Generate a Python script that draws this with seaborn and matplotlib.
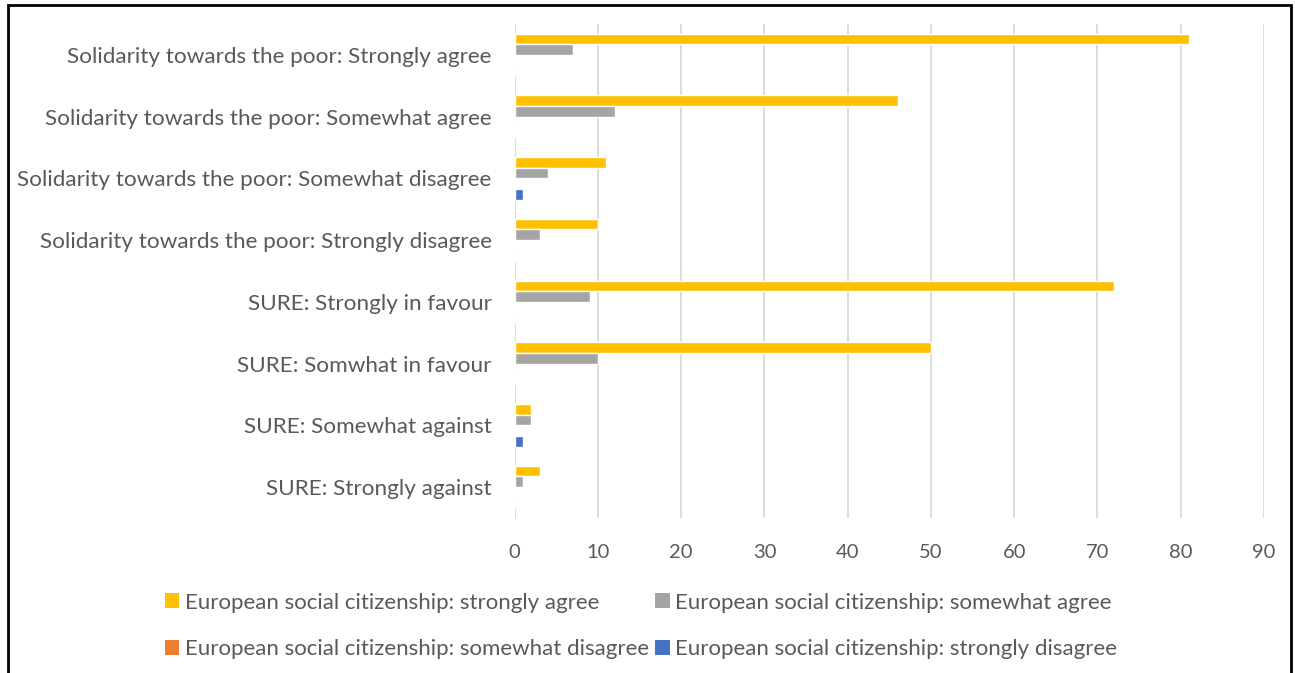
import matplotlib
matplotlib.use("Agg")
import matplotlib.pyplot as plt
from matplotlib.patches import Patch, Rectangle
import seaborn as sns
import pandas as pd

categories = [
    "Solidarity towards the poor: Strongly agree",
    "Solidarity towards the poor: Somewhat agree",
    "Solidarity towards the poor: Somewhat disagree",
    "Solidarity towards the poor: Strongly disagree",
    "SURE: Strongly in favour",
    "SURE: Somwhat in favour",
    "SURE: Somewhat against",
    "SURE: Strongly against",
]
series = [
    "European social citizenship: strongly agree",
    "European social citizenship: somewhat agree",
    "European social citizenship: somewhat disagree",
    "European social citizenship: strongly disagree",
]
strongly_agree = [81, 46, 11, 10, 72, 50, 2, 3]
somewhat_agree = [7, 12, 4, 3, 9, 10, 2, 1]
somewhat_disagree = [0, 0, 0, 0, 0, 0, 0, 0]
strongly_disagree = [0, 0, 1, 0, 0, 0, 1, 0]
x_ticks = [0, 10, 20, 30, 40, 50, 60, 70, 80, 90]

colors = ["#FFC000", "#A5A5A5", "#ED7D31", "#4472C4"]
text_color = "#595959"

rows = []
for name, vals in zip(series, [strongly_agree, somewhat_agree,
                               somewhat_disagree, strongly_disagree]):
    for cat, v in zip(categories, vals):
        rows.append({"category": cat, "series": name, "value": v})
df = pd.DataFrame(rows)

sns.set_style("white")
plt.rcParams["font.family"] = ["Lato", "DejaVu Sans"]

fig = plt.figure(figsize=(12.95, 6.73), dpi=100)
ax = fig.add_axes([514.6 / 1295, 1 - 518 / 673, (1264 - 514.6) / 1295, (518 - 24) / 673])

sns.barplot(data=df, y="category", x="value", hue="series", orient="h",
            order=categories, hue_order=series, palette=colors,
            width=0.69, ax=ax, legend=False, saturation=1, errorbar=None)

ax.set_xlim(0, 90)
ax.set_ylim(7.5, -0.5)
ax.set_xticks(x_ticks)
ax.set_xticklabels([str(t) for t in x_ticks])
ax.set_xlabel("")
ax.set_ylabel("")
for s in ax.spines.values():
    s.set_visible(False)
ax.grid(axis="x", color="#D9D9D9", linewidth=1.3)
ax.grid(axis="y", visible=False)
ax.set_axisbelow(True)
ax.tick_params(axis="y", length=0, pad=16.5, labelsize=16.2, labelcolor=text_color)
ax.tick_params(axis="x", length=0, pad=19, labelsize=14.5, labelcolor=text_color)

handles = [Patch(facecolor=c, edgecolor="none") for c in colors]
order = [0, 2, 1, 3]
fig.legend([handles[i] for i in order], [series[i] for i in order],
           ncol=2, loc="center", bbox_to_anchor=(641 / 1295, 1 - 626 / 673),
           frameon=False, fontsize=16, labelcolor=text_color,
           handlelength=0.65, handleheight=0.65, handletextpad=0.25,
           columnspacing=0.3, labelspacing=1.2)

fig.add_artist(Rectangle((8 / 1295, -0.02), (1291 - 8) / 1295, 1 - 5 / 673 + 0.02,
                         transform=fig.transFigure, fill=False,
                         edgecolor="black", linewidth=2))

fig.savefig("out.png", dpi=100)
